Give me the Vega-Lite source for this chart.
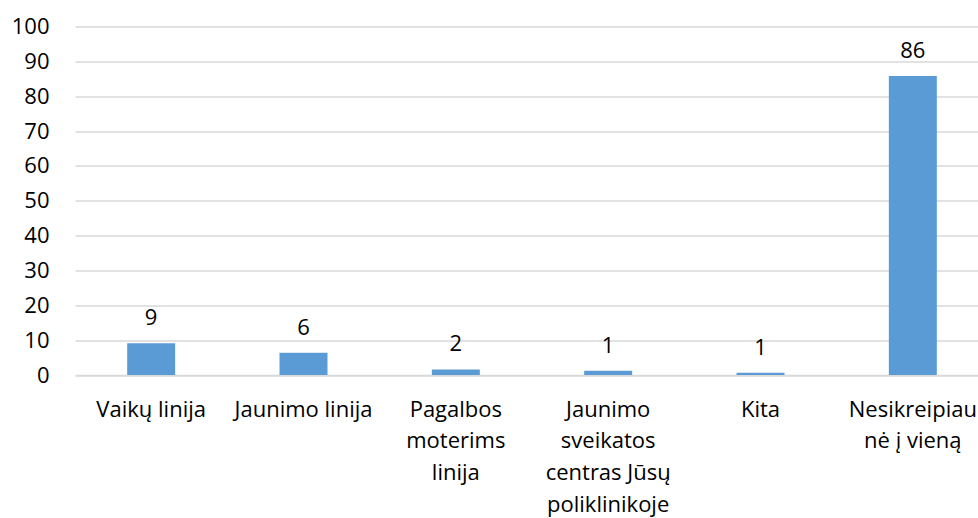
{
  "$schema": "https://vega.github.io/schema/vega-lite/v6.json",
  "width": 914,
  "height": 348.5,
  "autosize": {"type": "none"},
  "padding": {"left": 75, "top": 26.5, "right": 0, "bottom": 143},
  "background": "white",
  "config": {"view": {"stroke": null}, "font": "Open Sans"},
  "data": {
    "values": [
      {"cat": "Vaikų linija", "value": 9.1},
      {"cat": "Jaunimo linija", "value": 6.4},
      {"cat": "Pagalbos|moterims|linija", "value": 1.6},
      {"cat": "Jaunimo|sveikatos|centras Jūsų|poliklinikoje", "value": 1.2},
      {"cat": "Kita", "value": 0.66},
      {"cat": "Nesikreipiau|nė į vieną", "value": 85.8}
    ]
  },
  "encoding": {
    "x": {
      "field": "cat",
      "type": "nominal",
      "sort": null,
      "scale": {"paddingInner": 0.685, "paddingOuter": 0.3425},
      "axis": {
        "title": null,
        "labelAngle": 0,
        "labelExpr": "split(datum.label, '|')",
        "labelFont": "Open Sans",
        "labelFontSize": 22,
        "labelColor": "#000000",
        "labelLineHeight": 31.7,
        "labelPadding": 24,
        "labelLimit": 200,
        "labelOverlap": false,
        "ticks": false,
        "domainColor": "#d9d9d9",
        "domainWidth": 1.5
      }
    },
    "y": {
      "field": "value",
      "type": "quantitative",
      "scale": {"domain": [0, 100], "nice": false},
      "axis": {
        "title": null,
        "values": [0, 10, 20, 30, 40, 50, 60, 70, 80, 90, 100],
        "labelFont": "Open Sans",
        "labelFontSize": 22,
        "labelColor": "#000000",
        "labelPadding": 26,
        "ticks": false,
        "domain": false,
        "gridColor": "#d9d9d9",
        "gridWidth": 1.5
      }
    }
  },
  "layer": [
    {"mark": {"type": "bar", "color": "#5b9bd5"}},
    {
      "mark": {"type": "text", "baseline": "alphabetic", "dy": -18, "fontSize": 22, "font": "Open Sans", "color": "#000000"},
      "encoding": {"text": {"field": "value", "type": "quantitative", "format": ".0f"}}
    }
  ]
}
